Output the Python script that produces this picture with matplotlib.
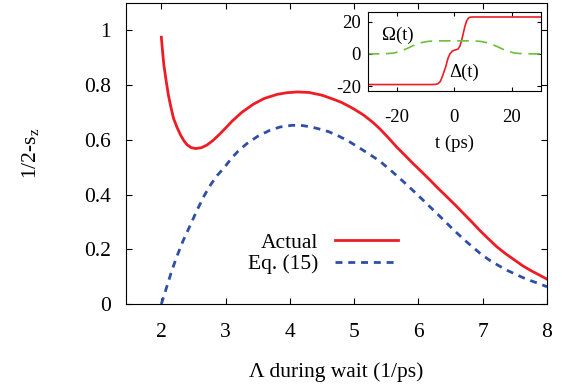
import matplotlib
matplotlib.use("Agg")
import matplotlib.pyplot as plt

plt.rcParams['font.family'] = ['Liberation Serif', 'DejaVu Serif']
plt.rcParams['mathtext.default'] = 'regular'
plt.rcParams['axes.unicode_minus'] = False

# main curves
lam_actual = [2.0, 2.02, 2.04, 2.075, 2.11, 2.15, 2.19, 2.245, 2.3, 2.35, 2.4, 2.46,
              2.53, 2.62, 2.71, 2.8, 2.9, 3.0, 3.1, 3.25, 3.43, 3.6, 3.8, 3.95,
              4.11, 4.3, 4.5, 4.68, 4.8, 4.9, 5.0, 5.15, 5.3, 5.4, 5.53, 5.66,
              5.8, 5.9, 6.05, 6.18, 6.3, 6.45, 6.58, 6.7, 6.83, 6.95, 7.08, 7.22,
              7.36, 7.5, 7.62, 7.75, 7.88, 8.0]
s_actual = [0.975, 0.92, 0.872, 0.815, 0.763, 0.718, 0.678, 0.645, 0.617, 0.597, 0.582, 0.572,
            0.568, 0.571, 0.581, 0.597, 0.619, 0.643, 0.668, 0.700, 0.730, 0.751, 0.766, 0.772,
            0.775, 0.773, 0.763, 0.748, 0.737, 0.725, 0.712, 0.69, 0.662, 0.640, 0.608, 0.574,
            0.541, 0.517, 0.483, 0.453, 0.424, 0.39, 0.36, 0.331, 0.30, 0.27, 0.24, 0.209,
            0.183, 0.16, 0.14, 0.122, 0.106, 0.091]

lam_eq15 = [2.0, 2.09, 2.16, 2.24, 2.34, 2.45, 2.55, 2.66, 2.77, 2.87, 2.92, 3.0,
            3.1, 3.2, 3.33, 3.5, 3.69, 3.85, 4.03, 4.2, 4.33, 4.45, 4.6, 4.73,
            4.9, 5.05, 5.2, 5.4, 5.6, 5.8, 6.0, 6.18, 6.37, 6.55, 6.75, 6.96,
            7.1, 7.25, 7.37, 7.5, 7.62, 7.75, 7.88, 8.0]
s_eq15 = [0.0, 0.067, 0.12, 0.173, 0.232, 0.288, 0.34, 0.393, 0.437, 0.47, 0.483, 0.505,
          0.535, 0.56, 0.586, 0.613, 0.635, 0.647, 0.653, 0.652, 0.647, 0.64, 0.63, 0.617,
          0.597, 0.575, 0.553, 0.522, 0.482, 0.44, 0.396, 0.355, 0.312, 0.27, 0.227, 0.185,
          0.161, 0.14, 0.124, 0.11, 0.097, 0.085, 0.074, 0.063]

# inset pulses
t_delta = [-30, -8, -6.5, -5.6, -4.8, -4, -3, -2.2, -1.5, -0.7, 0, 0.7, 1.4,
           2.0, 2.6, 3.1, 3.7, 4.3, 5.0, 5.5, 6.5, 30]
delta = [-19, -19, -18.9, -18.5, -17, -13.5, -8.3, -3, 0, 1.7, 2.3, 2.6, 3.1,
         5, 8.5, 12.4, 17, 20.5, 22.3, 22.8, 22.9, 22.9]

t_omega = [-30, -27, -24, -21, -18, -15, -12, -9, -6, 0, 6, 9, 12, 15, 18, 21, 24, 27, 30]
omega = [0, 0.02, 0.1, 0.5, 2.0, 4.5, 6.8, 7.8, 8.1, 8.1, 8.1, 7.8, 6.8, 4.5, 2.0, 0.5, 0.1, 0.02, 0]

red = '#ee1c25'
blue = '#2f4ea8'
green = '#6cbe3c'

fig = plt.figure(figsize=(5.68, 3.86), dpi=100)
ax = fig.add_axes([126/568, 1 - 304/386, 421/568, 301/386])

ax.plot(lam_actual, s_actual, color=red, lw=2.0, label='Actual')
ax.plot(lam_eq15, s_eq15, color=blue, lw=2.0, ls=(0, (2.5, 2.1)), label='Eq. (15)')

ax.set_xlim(1.45, 8)
ax.set_ylim(0, 1.1)
ax.set_xticks([2, 3, 4, 5, 6, 7, 8])
ax.set_yticks([0, 0.2, 0.4, 0.6, 0.8, 1])
ax.set_yticklabels(['0', '0.2', '0.4', '0.6', '0.8', '1'])
ax.tick_params(direction='in', top=True, right=True, length=4, width=0.8,
               labelsize=15.5)
ax.tick_params(axis='x', pad=14)
ax.tick_params(axis='y', pad=11)
ax.set_xlabel('Λ during wait (1/ps)', fontsize=15.5, labelpad=14)
ax.set_ylabel('1/2-s$_z$', fontsize=15.5, labelpad=31)

ax.legend(loc='center right', bbox_to_anchor=(0.693, 0.168), frameon=False,
          markerfirst=False, fontsize=15.5, handlelength=2.93, handletextpad=0.8,
          labelspacing=0.05)

# inset
ins = fig.add_axes([367.7/568, 1 - 91/386, 173/568, 79/386])
ins.plot(t_delta, delta, color=red, lw=1.2)
ins.plot(t_omega, omega, color=green, lw=1.2, ls=(0, (7, 4)))
ins.set_xlim(-30, 30)
ins.set_ylim(-23, 26)
ins.set_xticks([-20, 0, 20])
ins.set_yticks([-20, 0, 20])
ins.tick_params(direction='in', top=True, right=True, length=3, width=0.8,
                labelsize=13.5)
ins.tick_params(axis='x', pad=13)
ins.tick_params(axis='y', pad=5)
ins.set_xlabel('t (ps)', fontsize=13.5, labelpad=6.5)
ins.text(-19.6, 11.6, 'Ω(t)', fontsize=13.5, ha='center', va='center')
ins.text(3.4, -11.4, 'Δ(t)', fontsize=13.5, ha='center', va='center')

fig.savefig('out.png', dpi=100)
